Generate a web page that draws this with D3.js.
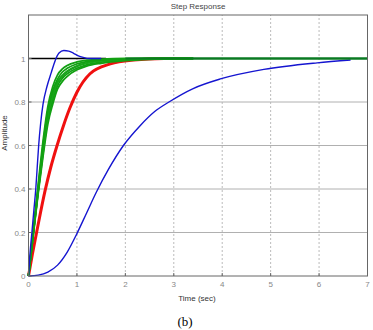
<!DOCTYPE html>
<html>
<head>
<meta charset="utf-8">
<script src="https://cdn.jsdelivr.net/npm/d3@7"></script>
<style>
  body { margin: 0; background: #fff; }
  svg { display: block; }
</style>
</head>
<body>
<div id="chart"></div>
<script>
// x / y ticks
const xTicks = [0, 1, 2, 3, 4, 5, 6, 7];
const yTicks = [0, 0.2, 0.4, 0.6, 0.8, 1];

// fast underdamped response (blue, overshoot)
const fastBlueT = [0, 0.03, 0.07, 0.11, 0.15, 0.18, 0.21, 0.25, 0.30, 0.38, 0.47, 0.55, 0.63, 0.73, 0.83, 0.93, 1.03, 1.13, 1.25, 1.5];
const fastBlueY = [0, 0.1, 0.2, 0.3, 0.4, 0.5, 0.6, 0.7, 0.79, 0.87, 0.935, 0.99, 1.025, 1.037, 1.034, 1.024, 1.012, 1.005, 1.0, 1.0];

// slow response (blue)
const slowBlueT = [0, 0.2, 0.4, 0.6, 0.8, 1.0, 1.2, 1.4, 1.65, 1.96, 2.3, 2.6, 2.9, 3.4, 3.96, 4.86, 5.96, 6.65];
const slowBlueY = [0, 0.004, 0.018, 0.05, 0.11, 0.195, 0.29, 0.385, 0.49, 0.6, 0.69, 0.755, 0.8, 0.862, 0.906, 0.95, 0.98, 0.993];

// red response
const redT = [0, 0.08, 0.18, 0.34, 0.46, 0.59, 0.72, 0.85, 1.0, 1.27, 1.69, 2.17, 2.8, 3.3];
const redY = [0, 0.1, 0.215, 0.39, 0.5, 0.6, 0.69, 0.77, 0.845, 0.93, 0.975, 0.993, 1.0, 1.0];

// green family (common time base)
const greenT = [0, 0.1, 0.2, 0.3, 0.4, 0.5, 0.6, 0.7, 0.8, 1.0, 1.2, 1.5, 2.0, 2.5, 3.0, 3.4];
const green1 = [0, 0.21, 0.42, 0.62, 0.78, 0.87, 0.925, 0.952, 0.968, 0.984, 0.992, 0.997, 1.0, 1.0, 1.0, 1.0];
const green2 = [0, 0.205, 0.41, 0.60, 0.76, 0.85, 0.905, 0.938, 0.955, 0.975, 0.986, 0.993, 0.998, 1.0, 1.0, 1.0];
const green3 = [0, 0.2, 0.40, 0.58, 0.74, 0.83, 0.89, 0.922, 0.942, 0.965, 0.979, 0.989, 0.996, 0.999, 1.0, 1.0];
const green4 = [0, 0.195, 0.39, 0.565, 0.72, 0.81, 0.875, 0.91, 0.93, 0.955, 0.971, 0.983, 0.993, 0.998, 1.0, 1.0];
const green5 = [0, 0.19, 0.38, 0.55, 0.70, 0.79, 0.86, 0.895, 0.918, 0.948, 0.965, 0.978, 0.99, 0.996, 0.999, 1.0];

// dark green curve that runs to the end, and the black unit line
const darkGreenT = [0, 0.1, 0.2, 0.3, 0.4, 0.5, 0.6, 0.8, 1.0, 1.5, 2.0, 3.0, 7.0];
const darkGreenY = [0, 0.2, 0.39, 0.58, 0.74, 0.83, 0.89, 0.94, 0.965, 0.99, 0.998, 1.0, 1.0];
const refT = [0, 1.6];
const refY = [1, 1];

const W = 373, H = 330;
const margin = { left: 28.5, right: 5.5, top: 15, bottom: 54 };

const svg = d3.select("#chart").append("svg")
  .attr("width", W).attr("height", H);

const x = d3.scaleLinear().domain([0, 7]).range([margin.left, W - margin.right]);
const y = d3.scaleLinear().domain([0, 1.2]).range([H - margin.bottom, margin.top]);

const zip = (ts, vs) => ts.map((t, i) => [t, vs[i]]);
const line = d3.line().x(d => x(d[0])).y(d => y(d[1])).curve(d3.curveMonotoneX);

// grid
svg.append("g").selectAll("line").data(xTicks.slice(1, -1)).enter().append("line")
  .attr("x1", d => x(d)).attr("x2", d => x(d))
  .attr("y1", y(0)).attr("y2", y(1.2))
  .attr("stroke", "#bbb").attr("stroke-width", 1).attr("stroke-dasharray", "2,2");
svg.append("g").selectAll("line").data(yTicks.slice(1)).enter().append("line")
  .attr("x1", x(0)).attr("x2", x(7))
  .attr("y1", d => y(d)).attr("y2", d => y(d))
  .attr("stroke", "#b0b0b0").attr("stroke-width", 1);

// curves
const curves = [
  { pts: zip(slowBlueT, slowBlueY), color: "#1515d0", w: 1.4 },
  { pts: zip(redT, redY), color: "#f01010", w: 3 },
  { pts: zip(refT, refY), color: "#000", w: 1.4 },
  { pts: zip(darkGreenT, darkGreenY), color: "#0a7a22", w: 1.8 },
  { pts: zip(greenT, green5), color: "#12a012", w: 1.8 },
  { pts: zip(greenT, green4), color: "#12a012", w: 1.8 },
  { pts: zip(greenT, green3), color: "#18a818", w: 1.8 },
  { pts: zip(greenT, green2), color: "#12a012", w: 1.8 },
  { pts: zip(greenT, green1), color: "#12a012", w: 1.8 },
  { pts: zip(fastBlueT, fastBlueY), color: "#1515d0", w: 1.4 }
];
svg.append("g").selectAll("path").data(curves).enter().append("path")
  .attr("d", d => line(d.pts))
  .attr("fill", "none")
  .attr("stroke", d => d.color)
  .attr("stroke-width", d => d.w);

// dark green tail at 1 drawn over the bundle
svg.append("path")
  .attr("d", line([[2.0, 1], [7, 1]]))
  .attr("fill", "none").attr("stroke", "#0a7a22").attr("stroke-width", 1.8);

// frame
svg.append("rect")
  .attr("x", x(0)).attr("y", y(1.2))
  .attr("width", x(7) - x(0)).attr("height", y(0) - y(1.2))
  .attr("fill", "none").attr("stroke", "#666").attr("stroke-width", 1);

// ticks (inward)
const tickG = svg.append("g").attr("stroke", "#666");
tickG.selectAll(".xt").data(xTicks).enter().append("line")
  .attr("x1", d => x(d)).attr("x2", d => x(d))
  .attr("y1", y(0)).attr("y2", y(0) - 3);
tickG.selectAll(".yt").data(yTicks).enter().append("line")
  .attr("x1", x(0)).attr("x2", x(0) + 3)
  .attr("y1", d => y(d)).attr("y2", d => y(d));

const font = "'Liberation Sans', Arial, sans-serif";

svg.append("g").selectAll("text").data(xTicks).enter().append("text")
  .attr("x", d => x(d)).attr("y", y(0) + 11)
  .attr("text-anchor", "middle")
  .attr("fill", "#888").style("font-family", font).style("font-size", "8px")
  .text(d => d);

svg.append("g").selectAll("text").data(yTicks).enter().append("text")
  .attr("x", x(0) - 3).attr("y", d => y(d) + 3)
  .attr("text-anchor", "end")
  .attr("fill", "#888").style("font-family", font).style("font-size", "8px")
  .text(d => d);

// titles
svg.append("text")
  .attr("x", (x(0) + x(7)) / 2).attr("y", 9)
  .attr("text-anchor", "middle").attr("fill", "#444")
  .style("font-family", font).style("font-size", "8px")
  .text("Step Response");

svg.append("text")
  .attr("x", (x(0) + x(7)) / 2 - 1).attr("y", 301)
  .attr("text-anchor", "middle").attr("fill", "#333")
  .style("font-family", font).style("font-size", "8px")
  .text("Time (sec)");

svg.append("text")
  .attr("transform", "translate(7,133) rotate(-90)")
  .attr("text-anchor", "middle").attr("fill", "#333")
  .style("font-family", font).style("font-size", "8px")
  .text("Amplitude");

svg.append("text")
  .attr("x", 185).attr("y", 326)
  .attr("text-anchor", "middle").attr("fill", "#000")
  .style("font-family", "'Liberation Serif', 'Times New Roman', serif").style("font-size", "13px")
  .text("(b)");
</script>
</body>
</html>
